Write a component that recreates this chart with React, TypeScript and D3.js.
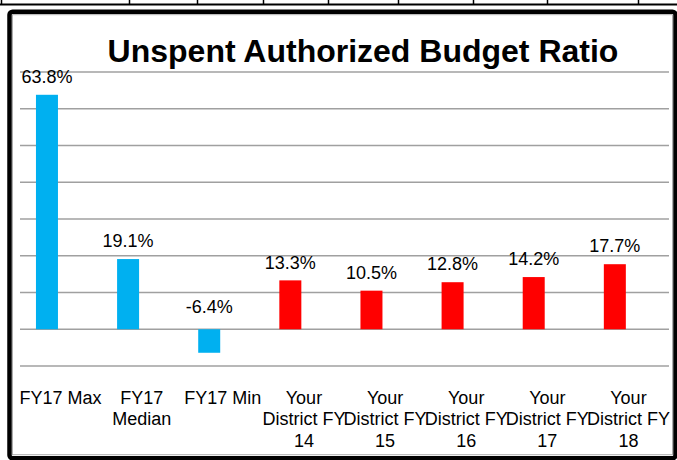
import React from "react";
import * as d3 from "d3";

const categories = [
  "FY17 Max",
  "FY17 Median",
  "FY17 Min",
  "Your District FY 14",
  "Your District FY 15",
  "Your District FY 16",
  "Your District FY 17",
  "Your District FY 18",
];
const values = [63.8, 19.1, -6.4, 13.3, 10.5, 12.8, 14.2, 17.7];
const groups = ["state", "state", "state", "district", "district", "district", "district", "district"];
const yTicks = [-10, 0, 10, 20, 30, 40, 50, 60, 70];
const title = "Unspent Authorized Budget Ratio";
// decorative table rule columns peeking above the chart frame
const tableColumns = [1.5, 129.5, 197.5, 263.5, 328.5, 398.5, 473.5, 547.5, 638.5];

const W = 677;
const H = 460;
const FONT = "Liberation Sans, Arial, Helvetica, sans-serif";
const colors: Record<string, string> = { state: "#00B0F0", district: "#FF0000" };

function measure(text: string, size: number): number {
  if (typeof document !== "undefined") {
    const c = document.createElement("canvas");
    const ctx = c.getContext("2d");
    if (ctx) {
      ctx.font = `${size}px "Liberation Sans", Arial, sans-serif`;
      return ctx.measureText(text).width;
    }
  }
  return text.length * size * 0.55;
}

function wrap(text: string, maxW: number, size: number): string[] {
  const words = text.split(" ");
  const lines: string[] = [];
  let cur = "";
  for (const w of words) {
    const t = cur ? cur + " " + w : w;
    if (cur && measure(t, size) > maxW) {
      lines.push(cur);
      cur = w;
    } else cur = t;
  }
  if (cur) lines.push(cur);
  return lines;
}

export default function App() {
  const plotLeft = 20;
  const plotRight = 669;
  const x = d3.scaleBand<string>().domain(categories).range([plotLeft, plotRight]).padding(0);
  const y = d3.scaleLinear().domain([-10, 70]).range([366, 72]);
  const barW = 22;
  const barShift = -13.6;
  const fmt = (v: number) => d3.format(".1f")(v).replace("\u2212", "-") + "%";
  const labelSize = 18;
  const textStyle = { fontFamily: FONT, fontSize: labelSize, fill: "#000" } as React.CSSProperties;

  return (
    <div style={{ position: "absolute", left: 0, top: 0, width: W, height: H, background: "#fff" }}>
      <svg width={W} height={H} style={{ display: "block", fontFamily: FONT }}>
        <rect x={0} y={0} width={W} height={H} fill="#fff" />
        {/* table rule above */}
        <line x1={0} x2={W} y1={4.5} y2={4.5} stroke="#000" strokeWidth={2} />
        {tableColumns.map((cx, i) => (
          <line key={i} x1={cx} x2={cx} y1={0} y2={4.5} stroke="#000" strokeWidth={1.5} />
        ))}
        {/* frame */}
        <rect x={9.5} y={11.75} width={666} height={446.5} rx={3} fill="#fff" stroke="#000" strokeWidth={4.5} />
        <rect x={12.5} y={14.75} width={660} height={440} fill="none" stroke="#9a9a9a" strokeWidth={0.8} />

        {/* title */}
        <text
          x={363}
          y={62}
          textAnchor="middle"
          style={{ fontFamily: FONT, fontWeight: "bold", fontSize: 32, fill: "#000" }}
        >
          {title}
        </text>

        {/* gridlines */}
        {yTicks.map((t) => (
          <line key={t} x1={plotLeft} x2={plotRight} y1={y(t)} y2={y(t)} stroke="#a0a0a0" strokeWidth={1.5} />
        ))}

        {/* bars */}
        {categories.map((c, i) => {
          const v = values[i];
          const cx = (x(c) as number) + x.bandwidth() / 2 + barShift;
          const y0 = y(0);
          const yv = y(v);
          return (
            <rect
              key={c}
              x={cx - barW / 2}
              y={Math.min(y0, yv)}
              width={barW}
              height={Math.abs(yv - y0)}
              fill={colors[groups[i]]}
            />
          );
        })}

        {/* value labels */}
        {categories.map((c, i) => {
          const v = values[i];
          const cx = (x(c) as number) + x.bandwidth() / 2 + barShift;
          const ly = v >= 0 ? y(v) - 11.8 : y(0) - 16.7;
          return (
            <text key={c} x={cx} y={ly} textAnchor="middle" style={textStyle}>
              {fmt(v)}
            </text>
          );
        })}

        {/* category labels */}
        {categories.map((c) => {
          const cx = (x(c) as number) + x.bandwidth() / 2;
          const lines = wrap(c, 86, labelSize);
          return (
            <text key={c} textAnchor="middle" style={textStyle}>
              {lines.map((ln, j) => (
                <tspan key={j} x={cx} y={404 + j * 21.3} style={textStyle}>
                  {ln}
                </tspan>
              ))}
            </text>
          );
        })}
      </svg>
    </div>
  );
}
